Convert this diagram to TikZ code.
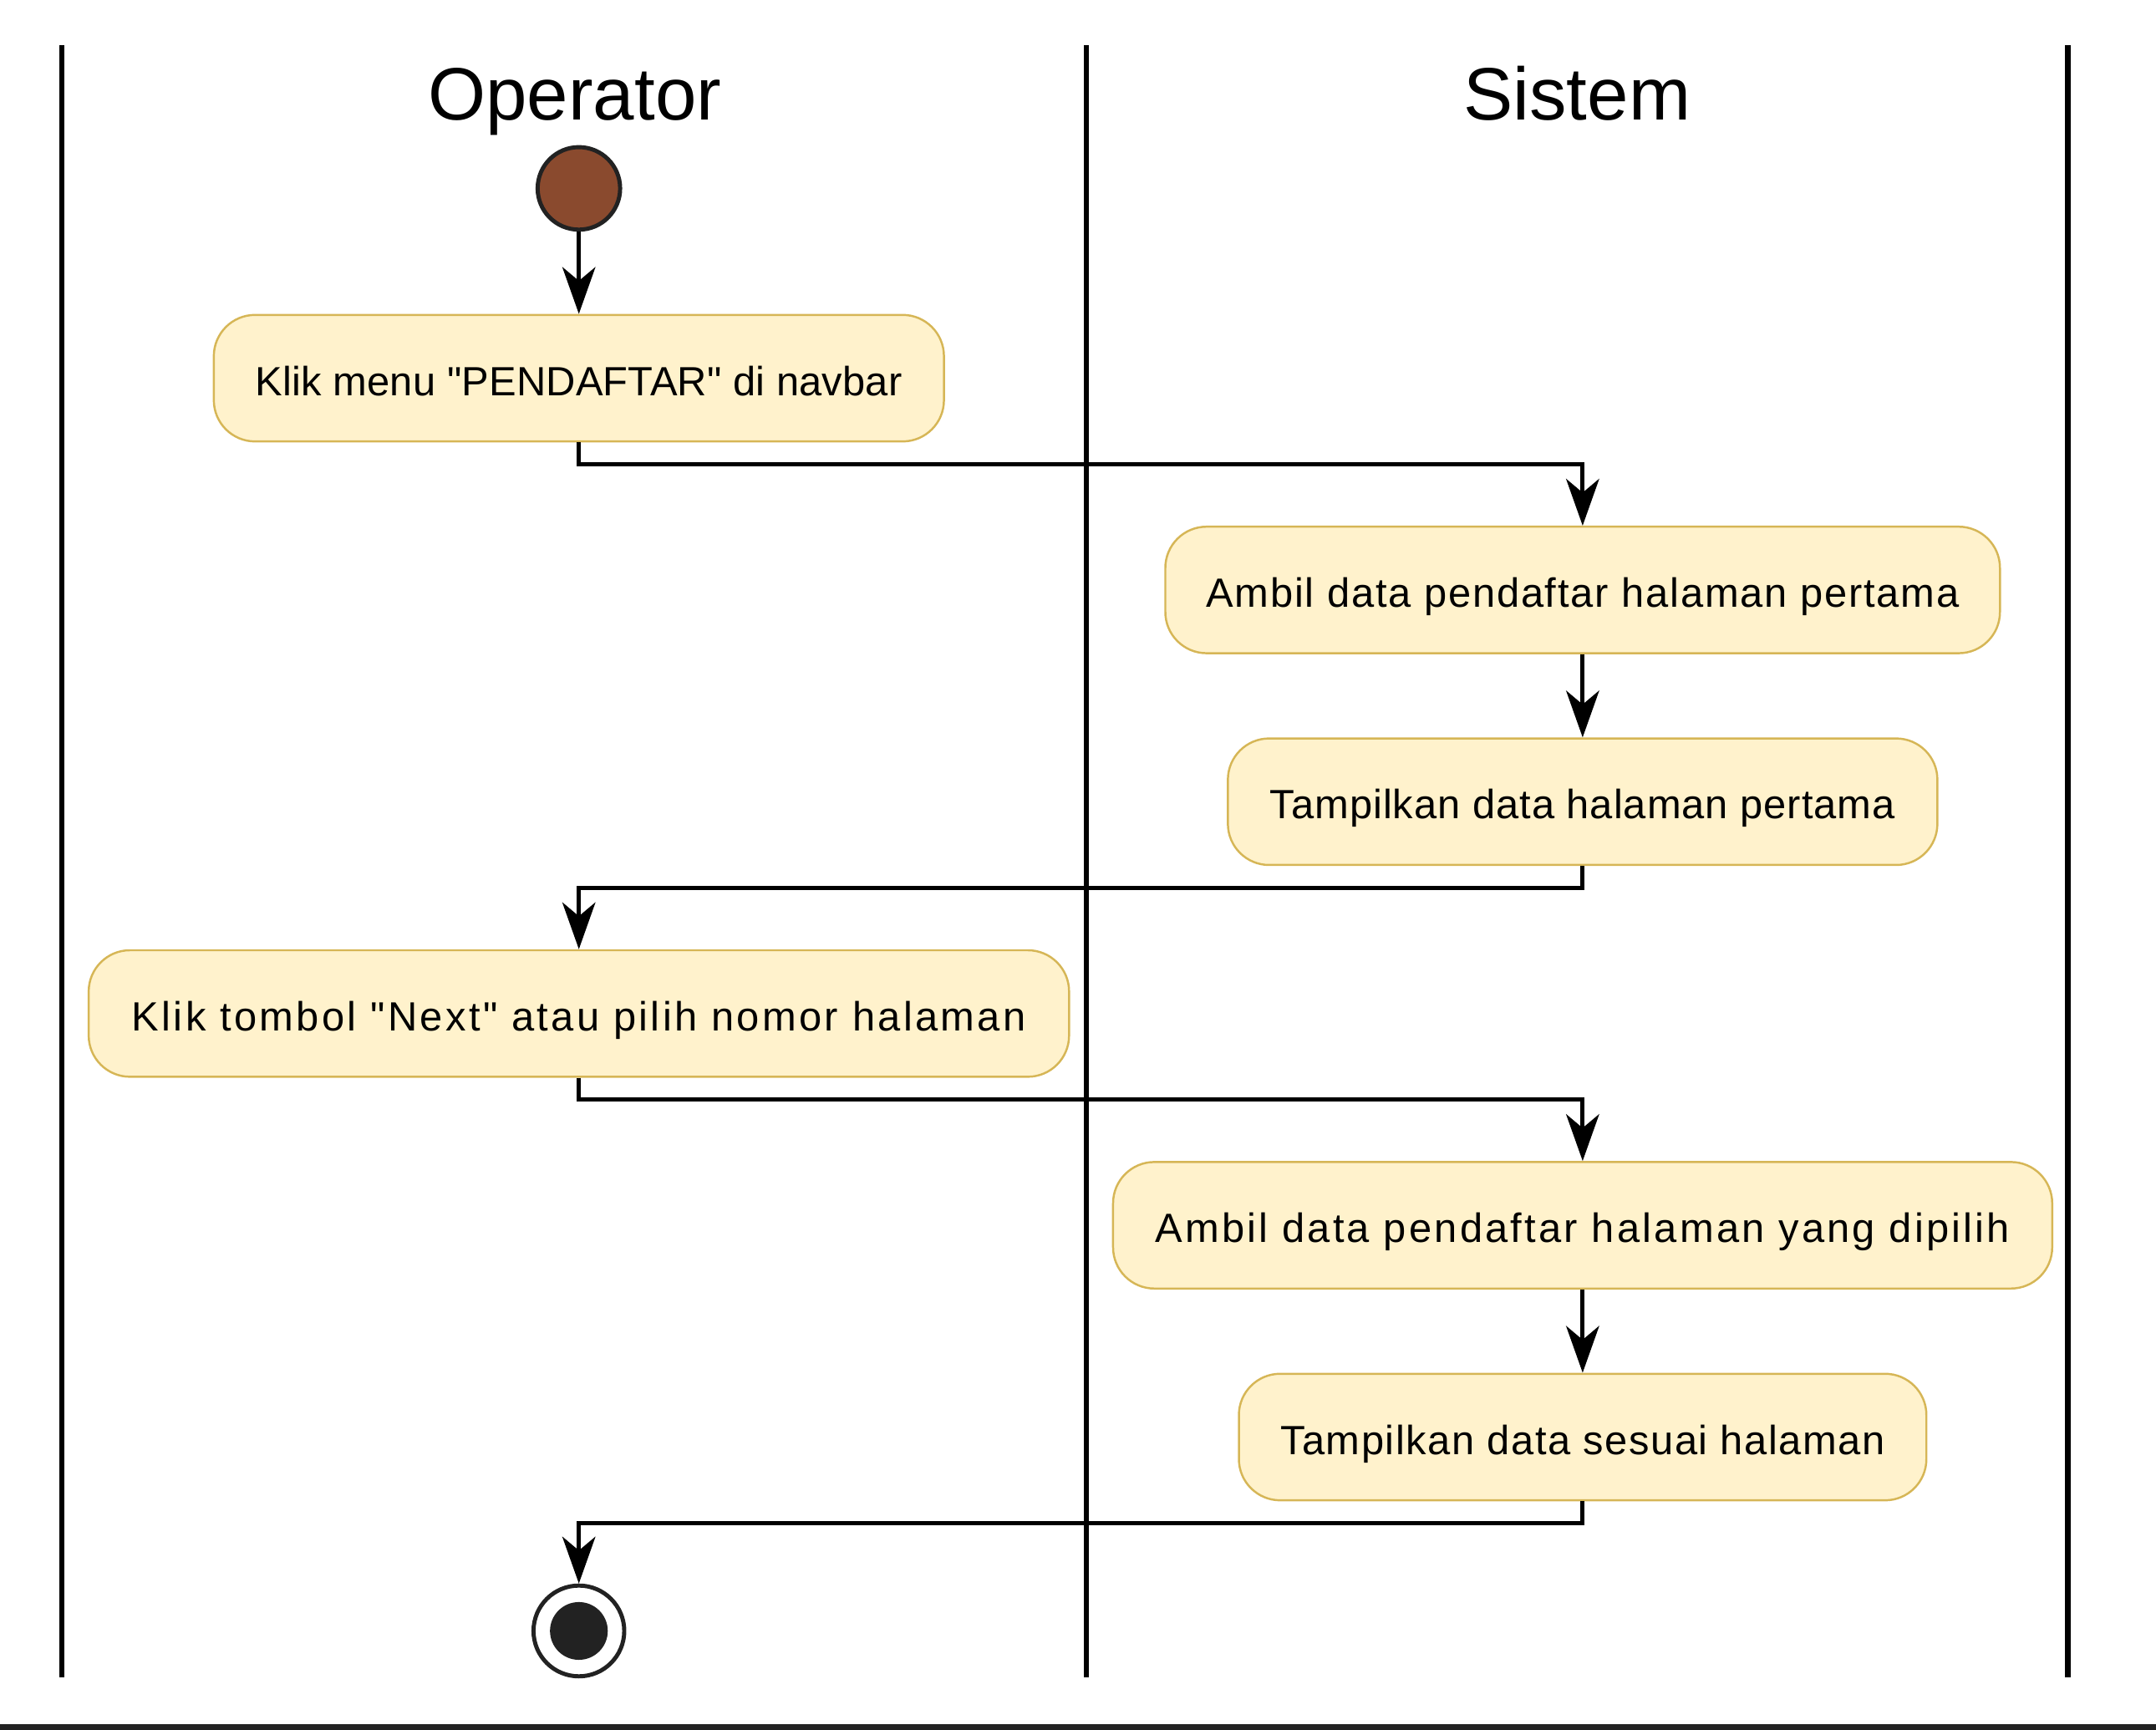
\documentclass[tikz,border=0pt]{standalone}
\usepackage{fontspec}
\setmainfont{Liberation Sans}[Ligatures=TeXOff]
\usetikzlibrary{arrows.meta}
\definecolor{actfill}{RGB}{255,242,204}
\definecolor{actline}{RGB}{214,182,86}
\definecolor{startfill}{RGB}{138,74,46}
\definecolor{dark}{RGB}{34,34,34}
\begin{document}
\begin{tikzpicture}[x=0.5pt,y=-0.5pt,
  lane/.style={line width=2pt},
  flow/.style={line width=1.5pt,-{Stealth[length=17pt,width=12pt,inset=5pt]}},
  activity/.style={draw=actline, fill=actfill, line width=0.75pt, rounded corners=15pt,
    minimum height=46pt, inner xsep=0pt, text height=12.5pt, text depth=0pt,
    font=\fontsize{14.85pt}{18pt}\selectfont},
  title/.style={text height=20pt, text depth=0pt, font=\fontsize{27pt}{32pt}\selectfont}]
\useasboundingbox (0,0) rectangle (1568,1258);
% swimlanes
\draw[lane] (45,33) -- (45,1220) (790,33) -- (790,1220) (1504,33) -- (1504,1220);
\fill[dark] (0,1254) rectangle (1568,1258);
\draw
(418,67) node [title] (t1) {Operator}
(1147,67) node [title] (t2) {Sistem};
% nodes
\draw
(421,137) node [draw=dark, fill=startfill, circle, line width=1.5pt, minimum size=30pt, inner sep=0pt] (0) {}
(421,275) node [activity, minimum width=265.5pt] (1) {\addfontfeature{LetterSpace=0.3}Klik menu "PENDAFTAR" di navbar}
(1151,429) node [activity, minimum width=303.5pt] (2) {\addfontfeature{LetterSpace=3.7}Ambil data pendaftar halaman pertama}
(1151,583) node [activity, minimum width=258pt] (3) {\addfontfeature{LetterSpace=2.0}Tampilkan data halaman pertama}
(421,737) node [activity, minimum width=356.5pt] (4) {\addfontfeature{LetterSpace=6.8}Klik tombol "Next" atau pilih nomor halaman}
(1151,891) node [activity, minimum width=341.5pt] (5) {\addfontfeature{LetterSpace=6.6}Ambil data pendaftar halaman yang dipilih}
(1151,1045) node [activity, minimum width=250pt] (6) {\addfontfeature{LetterSpace=3.2}Tampilkan data sesuai halaman}
(421,1186) node [draw=dark, fill=white, circle, line width=1.5pt, minimum size=33pt, inner sep=0pt] (7) {};
\fill[dark] (7) circle (10.5pt);
% edges
\draw[flow] (0) -- (1);
\draw[flow] (1.south) -- ++(0,16) -| (2.north);
\draw[flow] (2) -- (3);
\draw[flow] (3.south) -- ++(0,16) -| (4.north);
\draw[flow] (4.south) -- ++(0,16) -| (5.north);
\draw[flow] (5) -- (6);
\draw[flow] (6.south) -- ++(0,16) -| (7.north);
\end{tikzpicture}
\end{document}
